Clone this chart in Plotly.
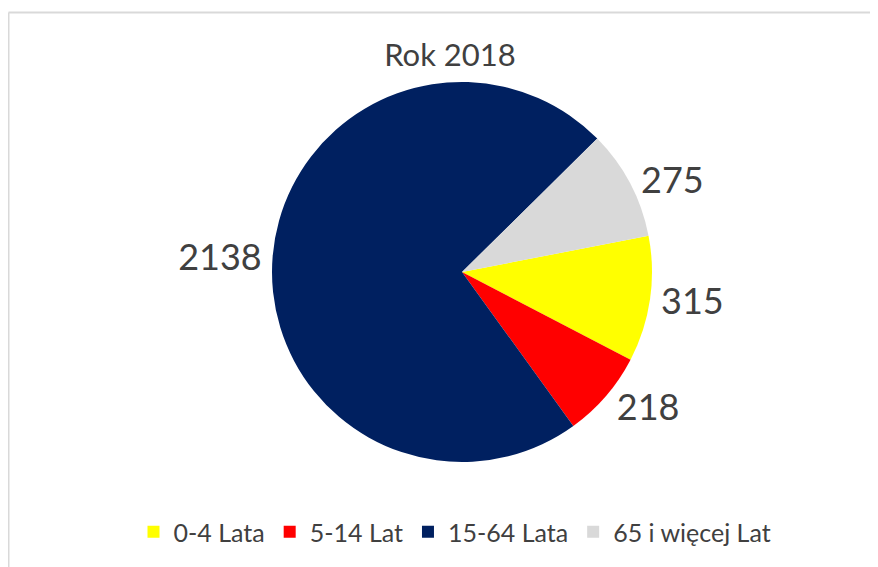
import plotly.graph_objects as go

categories = ["0-4 Lata", "5-14 Lat", "15-64 Lata", "65 i więcej Lat"]
values = [315, 218, 2138, 275]
colors = ["#FFFF00", "#FF0000", "#002060", "#D9D9D9"]
title_text = "Rok 2018"

# the page body has an 8px margin; positions below are in figure pixels
OFF = 8
W, H = 870, 559
cx, cy = 462 - OFF, 272 - OFF
half_w, half_h = 300, 190

fig = go.Figure(go.Pie(
    labels=categories,
    values=values,
    marker=dict(colors=colors, line=dict(width=0)),
    sort=False,
    direction="clockwise",
    rotation=79,
    textinfo="value",
    textposition="outside",
    textfont=dict(family="Lato", size=36, color="#404040"),
    domain=dict(x=[(cx - half_w) / W, (cx + half_w) / W],
                y=[1 - (cy + half_h) / H, 1 - (cy - half_h) / H]),
    hoverinfo="label+value",
))

fig.update_layout(
    width=W, height=H,
    margin=dict(l=0, r=0, t=0, b=0, autoexpand=False),
    paper_bgcolor="white",
    plot_bgcolor="white",
    font=dict(family="Lato", color="#404040"),
    title=dict(text=title_text, x=(450 - OFF) / W, xanchor="center", y=1 - (55 - OFF) / H, yanchor="middle",
               font=dict(family="Lato", size=31, color="#404040")),
    showlegend=True,
    legend=dict(orientation="h", x=(455 - OFF) / W, xanchor="center", y=1 - (532 - OFF) / H, yanchor="middle",
                font=dict(family="Lato", size=25, color="#404040"), traceorder="normal"),
    shapes=[
        dict(type="line", xref="paper", yref="paper", x0=0.5 / W, x1=1.01, y0=1 - 4.5 / H, y1=1 - 4.5 / H,
             line=dict(color="#D9D9D9", width=2)),
        dict(type="line", xref="paper", yref="paper", x0=0.5 / W, x1=0.5 / W, y0=-0.02, y1=1 - 4.5 / H,
             line=dict(color="#D9D9D9", width=2)),
    ],
)

fig.write_html("out.html")
